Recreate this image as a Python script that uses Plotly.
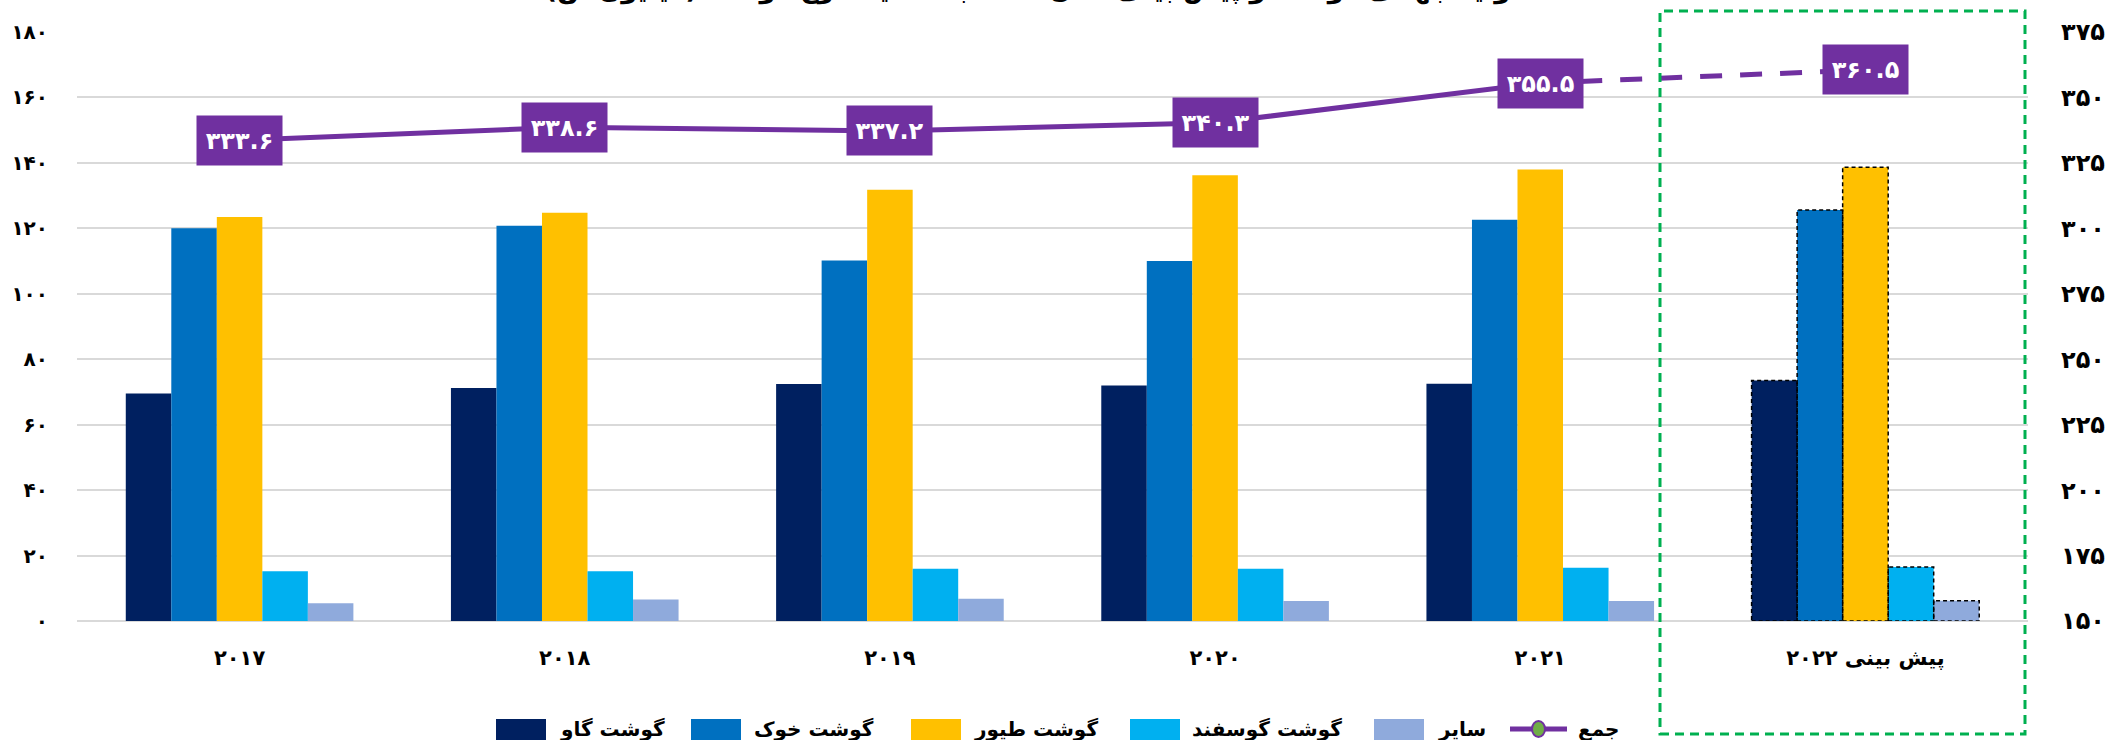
import plotly.graph_objects as go

# ---------------- data ----------------
categories = ["2017", "2018", "2019", "2020", "2021", "پیش بینی 2022"]
series_names = ["گوشت گاو", "گوشت خوک", "گوشت طیور", "گوشت گوسفند", "سایر"]
beef = [69.5, 71.2, 72.4, 72.0, 72.5, 73.5]
pork = [120.0, 120.8, 110.2, 110.0, 122.6, 125.6]
poultry = [123.5, 124.8, 131.8, 136.2, 138.0, 138.7]
sheep = [15.2, 15.2, 16.0, 16.0, 16.3, 16.5]
other = [5.4, 6.6, 6.8, 6.1, 6.1, 6.2]
total_name = "جمع"
total = [333.6, 338.6, 337.2, 340.3, 355.5, 360.5]
left_ticks = [0, 20, 40, 60, 80, 100, 120, 140, 160, 180]
right_ticks = [150, 175, 200, 225, 250, 275, 300, 325, 350, 375]
title_text = "تولید جهانی گوشت و پیش بینی سال 2022 به تفکیک نوع گوشت (میلیون تن)"

# ---------------- style / layout ----------------
W, H = 2113, 740
ML, MR, MT, MB = 77, 85, 32, 119
PW, PH = W - ML - MR, H - MT - MB
colors = ["#002060", "#0070C0", "#FFC000", "#00B0F0", "#8FAADC"]
purple = "#7030A0"
green = "#70AD47"
FONT = "DejaVu Sans"
FA = str.maketrans("0123456789", "۰۱۲۳۴۵۶۷۸۹")


def fa(s):
    return str(s).translate(FA)


def px(xp):
    return (xp - ML) / PW


def py(yp):
    return (H - MB - yp) / PH


cat_labels = [fa(c) for c in categories]
all_series = [beef, pork, poultry, sheep, other]

fig = go.Figure()
for name, vals, col in zip(series_names, all_series, colors):
    fig.add_trace(go.Bar(
        x=cat_labels, y=vals, name=name,
        marker=dict(color=col, line=dict(width=0)),
        hoverinfo="skip",
    ))

# total line: solid for actual years, dashed for forecast
fig.add_trace(go.Scatter(
    x=cat_labels[:5], y=total[:5], name=total_name, yaxis="y2",
    mode="lines", line=dict(color=purple, width=5),
))
fig.add_trace(go.Scatter(
    x=cat_labels[4:], y=total[4:], yaxis="y2",
    mode="lines", line=dict(color=purple, width=5, dash="22px,18px"),
))

annotations = []
for c, v in zip(cat_labels, total):
    annotations.append(dict(
        x=c, y=v, xref="x", yref="y2", text="<b>%s</b>" % fa(f"{v:.1f}"),
        showarrow=False, bgcolor=purple, width=83, height=47,
        font=dict(family=FONT, size=24, color="white"),
        align="center", valign="middle",
    ))

# cut-off title at the very top
annotations.append(dict(
    x=0.49, y=1.043, xref="paper", yref="paper", xanchor="center",
    yanchor="bottom", showarrow=False, text="<b>%s</b>" % fa(title_text),
    font=dict(family=FONT, size=26, color="black"),
))

shapes = []
# dashed outlines on forecast bars, derived from bar layout
bargap = 0.3
n = len(all_series)
bw = (1 - bargap) / n
fi = len(categories) - 1
for i, vals in enumerate(all_series):
    x0 = fi - (1 - bargap) / 2 + bw * i
    shapes.append(dict(
        type="rect", xref="x", yref="y", x0=x0, x1=x0 + bw, y0=0, y1=vals[fi],
        line=dict(color="black", width=1.5, dash="4px,3px"),
        fillcolor="rgba(0,0,0,0)", layer="above",
    ))

# green dashed box around forecast group
shapes.append(dict(
    type="rect", xref="paper", yref="paper", x0=px(1660), x1=px(2025),
    y0=py(734), y1=py(11),
    line=dict(color="#00B050", width=3, dash="9px,6px"),
    fillcolor="rgba(0,0,0,0)", layer="above",
))

# custom legend (layout positions in pixels)
leg_swatch_x = [496, 691, 911, 1130, 1374]
leg_text_x = [558, 752, 972, 1190, 1436]
sw_w = 50
ly0, ly1, lyc = 719, 740, 729
for i, (name, col) in enumerate(zip(series_names, colors)):
    shapes.append(dict(
        type="rect", xref="paper", yref="paper",
        x0=px(leg_swatch_x[i]), x1=px(leg_swatch_x[i] + sw_w),
        y0=py(ly1), y1=py(ly0), fillcolor=col, line=dict(width=0),
    ))
    annotations.append(dict(
        x=px(leg_text_x[i]), y=py(lyc), xref="paper", yref="paper",
        xanchor="left", yanchor="middle", showarrow=False,
        text="<b>%s</b>" % name,
        font=dict(family=FONT, size=20, color="black"),
    ))
# total entry
shapes.append(dict(
    type="line", xref="paper", yref="paper",
    x0=px(1510), x1=px(1567), y0=py(lyc), y1=py(lyc),
    line=dict(color=purple, width=5),
))
shapes.append(dict(
    type="circle", xref="paper", yref="paper",
    x0=px(1532), x1=px(1545), y0=py(lyc + 8), y1=py(lyc - 8),
    fillcolor=green, line=dict(color=purple, width=2),
))
annotations.append(dict(
    x=px(1576), y=py(lyc), xref="paper", yref="paper",
    xanchor="left", yanchor="middle", showarrow=False,
    text="<b>%s</b>" % total_name,
    font=dict(family=FONT, size=20, color="black"),
))

fig.update_layout(
    width=W, height=H,
    margin=dict(l=ML, r=MR, t=MT, b=MB, autoexpand=False),
    paper_bgcolor="white", plot_bgcolor="white",
    barmode="group", bargap=bargap, bargroupgap=0,
    font=dict(family=FONT, color="black"),
    showlegend=False,
    xaxis=dict(
        showgrid=False, showline=False, zeroline=False, ticks="",
        tickfont=dict(family=FONT, size=21, color="black", weight="bold"),
        ticklabelstandoff=22, automargin=False,
    ),
    yaxis=dict(
        range=[0, 180], tickvals=left_ticks, ticktext=[fa(t) for t in left_ticks],
        showgrid=True, gridcolor="#D9D9D9", gridwidth=2,
        zeroline=True, zerolinecolor="#D9D9D9", zerolinewidth=2,
        showline=False, ticks="", automargin=False,
        tickfont=dict(family=FONT, size=20, color="black", weight="bold"),
        ticklabelstandoff=28,
    ),
    yaxis2=dict(
        range=[150, 375], tickvals=right_ticks, ticktext=[fa(t) for t in right_ticks],
        overlaying="y", side="right", showgrid=False, zeroline=False,
        showline=False, ticks="", automargin=False,
        tickfont=dict(family=FONT, size=24, color="black", weight="bold"),
        ticklabelstandoff=32,
    ),
    annotations=annotations,
    shapes=shapes,
)

fig.write_html("out.html", post_script="document.body.style.margin='0';",
               config={"displayModeBar": False})
